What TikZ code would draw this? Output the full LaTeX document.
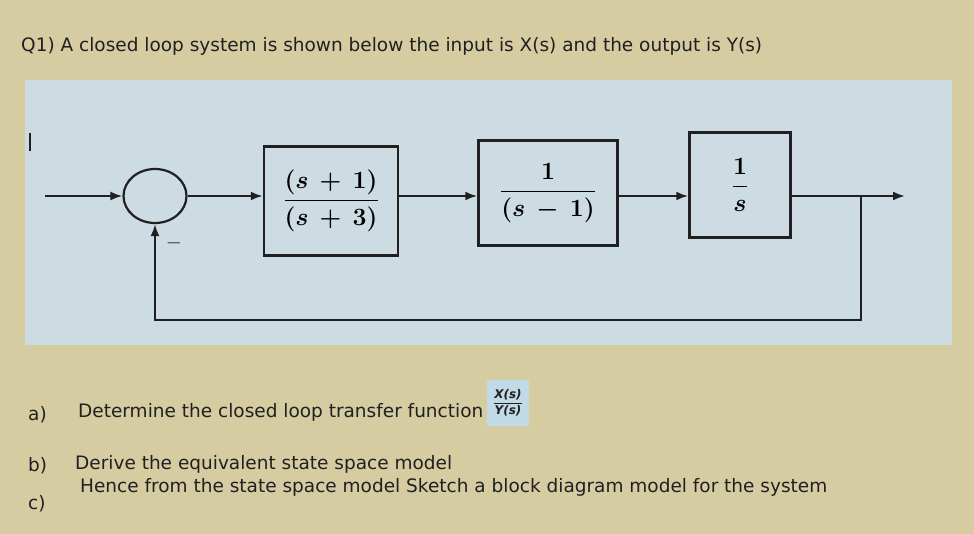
\documentclass[tikz,border=0pt]{standalone}
\usepackage{fontspec}
\usepackage{amsmath}
\setmainfont{DejaVu Sans}
\usetikzlibrary{positioning,shapes.geometric,arrows.meta}
\definecolor{paper}{RGB}{214,204,162}
\definecolor{panel}{RGB}{205,219,226}
\definecolor{ink}{RGB}{32,32,32}
\definecolor{hilite}{RGB}{194,218,230}
\newcommand{\wop}[1]{\mskip3mu#1\mskip3mu}

\begin{document}
\begin{tikzpicture}[x=1pt,y=-1pt,
    block/.style={draw=ink,line width=2.5pt,inner sep=0pt,
        font=\fontsize{27}{32}\selectfont\boldmath},
    sumnode/.style={draw=ink,line width=2.2pt,ellipse,minimum width=63pt,minimum height=54pt},
    link/.style={draw=ink,line width=2.2pt,-{Latex[length=12pt,width=9pt]}},
    txt/.style={anchor=base west,text=ink,inner sep=0pt,font=\fontsize{18.5}{22}\selectfont}]
    \useasboundingbox (0,0) rectangle (974,534);
    \fill[paper] (0,0) rectangle (974,534);
    \fill[panel] (25,80) rectangle (952,345);

    \node[txt] (title) at (21,52) {Q1) A closed loop system is shown below the input is X(s) and the output is Y(s)};

    % the loop
    \draw[ink,line width=2.4pt] (30,133) -- (30,151);
    \coordinate (in) at (45,196);
    \node[sumnode] (sum) at (155,196) {};
    \node[block,minimum width=134pt,minimum height=109pt] (G1) at (331,201)
        {$\dfrac{(s\wop{+}1)}{(s\wop{+}3)}$};
    \node[block,minimum width=139pt,minimum height=105pt] (G2) at (548,193)
        {$\dfrac{1}{(s\wop{-}1)}$};
    \node[block,minimum width=101pt,minimum height=105pt] (G3) at (740,185) {$\dfrac{1}{s}$};
    \coordinate (branch) at (861,196);
    \coordinate (out) at (905,196);
    \coordinate (low) at (861,320);

    \draw[link] (in) -- (sum);
    \draw[link] (sum) -- (sum -| G1.west);
    \draw[link] (sum -| G1.east) -- (sum -| G2.west);
    \draw[link] (sum -| G2.east) -- (sum -| G3.west);
    \draw[link] (sum -| G3.east) -- (out);
    % feedback from the output
    \draw[link] (branch) -- (low) -| (sum.south);
    \node[text=ink,inner sep=0pt,font=\fontsize{22}{24}\selectfont] (minus) at (174,243) {$-$};

    % questions
    \node[txt] (qa) at (28,420) {a)};
    \node[txt] (ta) at (78,417) {Determine the closed loop transfer function};
    \fill[hilite] (487,380) rectangle (529,426);
    \node[text=ink,inner sep=0pt,font=\fontsize{12}{14}\selectfont] (tf) at (508,403)
        {$\dfrac{\text{\bfseries\itshape X(s)}}{\text{\bfseries\itshape Y(s)}}$};
    \node[txt] (qb) at (28,471) {b)};
    \node[txt] (tb) at (75,469) {Derive the equivalent state space model};
    \node[txt] (qc) at (28,509) {c)};
    \node[txt] (tc) at (80,492) {Hence from the state space model Sketch a block diagram model for the system};
\end{tikzpicture}
\end{document}
